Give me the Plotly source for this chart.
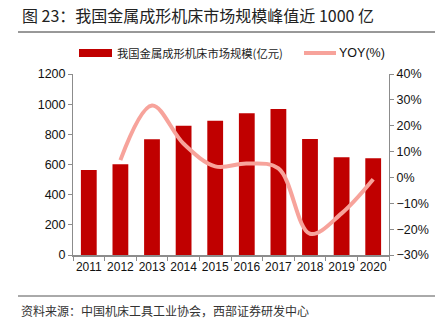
import plotly.graph_objects as go

years = ["2011", "2012", "2013", "2014", "2015", "2016", "2017", "2018", "2019", "2020"]
market_size = [563, 601, 767, 857, 890, 939, 968, 769, 648, 641]
yoy_years = ["2012", "2013", "2014", "2015", "2016", "2017", "2018", "2019", "2020"]
yoy_pct = [6.7, 27.8, 13.0, 4.3, 5.4, 3.5, -21.8, -13.9, -0.7]

bar_name = "我国金属成形机床市场规模(亿元)"
line_name = "YOY(%)"
title_text = "图 23：我国金属成形机床市场规模峰值近 1000 亿"
source_text = "资料来源：中国机床工具工业协会，西部证券研发中心"

BAR_COLOR = "#C00000"
LINE_COLOR = "#F7A39B"
AXIS_COLOR = "#8C8C8C"
CJK = "Noto Sans CJK SC"
LAT = "Liberation Sans, Arial"

W, H = 441, 327
L, R, T, B = 73, 52, 74, 72
pw, ph = W - L - R, H - T - B


def px(x):
    return (x - L) / pw


def py(y):
    return (H - B - y) / ph


fig = go.Figure()
fig.add_trace(go.Bar(x=years, y=market_size, name=bar_name, marker=dict(color=BAR_COLOR, line=dict(width=0)),
                     showlegend=False))
fig.add_trace(go.Scatter(x=yoy_years, y=yoy_pct, name=line_name, yaxis="y2", mode="lines",
                         line=dict(color=LINE_COLOR, width=4, shape="spline", smoothing=1.0),
                         showlegend=False))

shapes = [
    dict(type="line", xref="paper", yref="paper", x0=px(18), x1=px(435), y0=py(32), y1=py(32),
         line=dict(color="#333333", width=1)),
    dict(type="line", xref="paper", yref="paper", x0=px(18), x1=px(435), y0=py(296), y1=py(296),
         line=dict(color="#555555", width=1)),
    # custom legend swatches
    dict(type="rect", xref="paper", yref="paper", x0=px(79), x1=px(112), y0=py(57), y1=py(49),
         fillcolor=BAR_COLOR, line=dict(width=0)),
    dict(type="line", xref="paper", yref="paper", x0=px(304), x1=px(336), y0=py(53), y1=py(53),
         line=dict(color=LINE_COLOR, width=4)),
]

annotations = [
    dict(text=title_text, xref="paper", yref="paper", x=px(20), y=py(15), xanchor="left", yanchor="middle",
         showarrow=False, font=dict(family=CJK, size=16, color="#222222")),
    dict(text=source_text, xref="paper", yref="paper", x=px(19), y=py(310), xanchor="left", yanchor="middle",
         showarrow=False, font=dict(family=CJK, size=12, color="#333333")),
    dict(text=bar_name, xref="paper", yref="paper", x=px(115), y=py(53), xanchor="left", yanchor="middle",
         showarrow=False, font=dict(family=CJK, size=11.3, color="#222222")),
    dict(text=line_name, xref="paper", yref="paper", x=px(337), y=py(53), xanchor="left", yanchor="middle",
         showarrow=False, font=dict(family=LAT, size=12.5, color="#111111")),
]

fig.update_layout(
    width=W, height=H,
    margin=dict(l=L, r=R, t=T, b=B, pad=0),
    paper_bgcolor="white", plot_bgcolor="white",
    bargap=0.5,
    showlegend=False,
    font=dict(family=LAT, size=12, color="#111111"),
    xaxis=dict(type="category", showline=True, linecolor=AXIS_COLOR, linewidth=1.5, ticks="outside",
               tickson="boundaries", ticklen=4, tickcolor=AXIS_COLOR, showgrid=False, zeroline=False,
               tickangle=0, tickfont=dict(family=LAT, size=12, color="#111111")),
    yaxis=dict(range=[0, 1200], dtick=200, showline=True, linecolor=AXIS_COLOR, linewidth=1, ticks="outside",
               ticklen=4, tickcolor=AXIS_COLOR, showgrid=False, zeroline=False,
               tickfont=dict(family=LAT, size=12.5, color="#111111")),
    yaxis2=dict(range=[-30, 40], dtick=10, overlaying="y", side="right", showline=True, linecolor=AXIS_COLOR,
                linewidth=1, ticks="outside", ticklen=4, tickcolor=AXIS_COLOR, showgrid=False, zeroline=False,
                ticksuffix="%", tickfont=dict(family=LAT, size=12.5, color="#111111")),
    shapes=shapes,
    annotations=annotations,
)

fig.write_html("out.html")
